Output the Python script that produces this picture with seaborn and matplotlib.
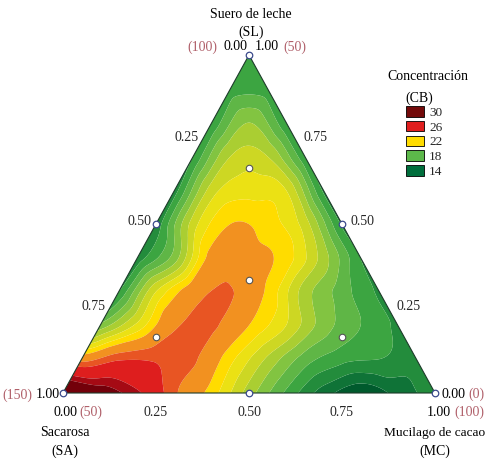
import numpy as np
import matplotlib
matplotlib.use("Agg")
import matplotlib.pyplot as plt
import matplotlib.tri as mtri
from matplotlib.patches import Patch
import pandas as pd
import seaborn as sns

# ---- data: concentration (CB) read on a simplex grid, rows of SL = 0.0 ... 1.0,
#      values for MC = 0.0, 0.1, ... (SA = 1 - SL - MC)
conc_sl00 = [34.0, 31.5, 28.8, 24.8, 22.5, 19.5, 16.8, 14.5, 13.2, 14.3, 15.8]
conc_sl01 = [24.0, 25.6, 25.6, 24.8, 22.3, 19.8, 17.5, 16.3, 16.0, 15.5]
conc_sl02 = [18.3, 21.3, 24.4, 24.8, 23.0, 21.0, 18.5, 17.0, 15.8]
conc_sl03 = [16.0, 21.0, 23.9, 24.68, 22.8, 19.5, 17.5, 15.8]
conc_sl04 = [15.3, 18.5, 23.5, 23.4, 22.5, 19.5, 16.0]
conc_sl05 = [15.3, 20.5, 23.0, 22.5, 20.5, 15.8]
conc_sl06 = [15.5, 20.5, 21.6, 21.0, 15.8]
conc_sl07 = [16.0, 20.0, 20.0, 16.2]
conc_sl08 = [16.2, 19.0, 16.2]
conc_sl09 = [16.5, 16.5]
conc_sl10 = [16.5]
conc_rows = [conc_sl00, conc_sl01, conc_sl02, conc_sl03, conc_sl04, conc_sl05,
             conc_sl06, conc_sl07, conc_sl08, conc_sl09, conc_sl10]

# design points (augmented simplex-centroid)
design_SA = [1, 0, 0, 0.5, 0.5, 0, 1/3, 2/3, 1/6, 1/6]
design_SL = [0, 1, 0, 0.5, 0, 0.5, 1/3, 1/6, 2/3, 1/6]
design_MC = [0, 0, 1, 0, 0.5, 0.5, 1/3, 1/6, 1/6, 2/3]
design_kind = ["edge"] * 6 + ["inner"] * 4

tick_vals = [0.25, 0.50, 0.75]
legend_vals = ["30", "26", "22", "18", "14"]

# ---- style
sns.set_theme(style="white")
plt.rcParams["font.family"] = ["Liberation Serif", "DejaVu Serif"]

H = np.sqrt(3) / 2
W, HP = 487, 462


def cart(sl, mc):
    sl = np.asarray(sl, float)
    mc = np.asarray(mc, float)
    return mc + sl / 2, sl * H


# build grid
sl_list, mc_list, z_list = [], [], []
n = len(conc_rows) - 1
for j, row in enumerate(conc_rows):
    for i, v in enumerate(row):
        sl_list.append(j / n)
        mc_list.append(i / n)
        z_list.append(v)
gx, gy = cart(sl_list, mc_list)
z = np.array(z_list)

tri = mtri.Triangulation(gx, gy)
refiner = mtri.UniformTriRefiner(tri)
interp = mtri.CubicTriInterpolator(tri, z, kind="geom")
tri_r, z_r = refiner.refine_field(z, triinterpolator=interp, subdiv=4)

levels = [0, 14, 15, 16, 17, 18, 19, 20, 21, 22, 23, 24.6, 25.8, 28.5, 30, 60]
band_colors = ["#005a2d", "#0f7337", "#238c3c", "#3ca541", "#5fb646", "#82c441",
               "#aace32", "#cdd723", "#ebe114", "#ffdc00", "#f29120", "#e85523",
               "#de1e1e", "#a50a14", "#73000a"]

fig = plt.figure(figsize=(W / 100, HP / 100), dpi=100)
ax = fig.add_axes([63 / W, 1 - 393 / HP, 372 / W, 338 / HP])
ax.set_xlim(0, 1)
ax.set_ylim(0, H)
ax.axis("off")

ax.tricontourf(tri_r, z_r, levels=levels, colors=band_colors, antialiased=True)

# triangle outline
ax.plot([0, 1, 0.5, 0], [0, 0, H, 0], color="#1d3b2a", lw=0.8, clip_on=False, zorder=3)

# design points with seaborn
dx, dy = cart(design_SL, design_MC)
df = pd.DataFrame({"x": dx, "y": dy, "kind": design_kind})
sns.scatterplot(data=df[df.kind == "edge"], x="x", y="y", ax=ax, s=22,
                color="white", edgecolor="#3b4a8c", linewidth=0.9,
                legend=False, zorder=5, clip_on=False)
sns.scatterplot(data=df[df.kind == "inner"], x="x", y="y", ax=ax, s=22,
                color="white", edgecolor="#555555", linewidth=0.8,
                legend=False, zorder=5, clip_on=False)
ax.set_xlabel("")
ax.set_ylabel("")
ax.axis("off")

# tick labels
fs_tick = 10
for v in tick_vals:
    # left edge : SA
    x, y = cart(1 - v, 0)
    ax.annotate(f"{v:.2f}", (x, y), xytext=(-3, 1.5), textcoords="offset points",
                ha="right", va="center", fontsize=fs_tick, annotation_clip=False)
    # right edge : SL
    x, y = cart(v, 1 - v)
    ax.annotate(f"{v:.2f}", (x, y), xytext=(6, 1.5), textcoords="offset points",
                ha="left", va="center", fontsize=fs_tick, annotation_clip=False)
    # bottom : MC
    x, y = cart(0, v)
    ax.annotate(f"{v:.2f}", (x, y), xytext=(0, -14), textcoords="offset points",
                ha="center", va="center", fontsize=fs_tick, annotation_clip=False)

red_txt = "#b0606a"


def ft(xp, yp, s, ha="left", color="black", size=fs_tick):
    fig.text(xp / W, 1 - yp / HP, s, ha=ha, va="center", color=color, fontsize=size)


# corner labels
ft(217, 47, "(100)", ha="right", color=red_txt, size=10)
ft(247, 47, "0.00", ha="right")
ft(255, 47, "1.00", ha="left")
ft(283, 47, "(50)", ha="left", color=red_txt, size=10)
ft(2, 395, "(150)", ha="left", color=red_txt, size=10)
ft(36, 395, "1.00", ha="left")
ft(53, 412, "0.00", ha="left")
ft(79, 412, "(50)", ha="left", color=red_txt, size=10)
ft(442, 394, "0.00", ha="left")
ft(468, 394, "(0)", ha="left", color=red_txt, size=10)
ft(427, 412, "1.00", ha="left")
ft(454, 412, "(100)", ha="left", color=red_txt, size=10)

# axis titles
ft(251, 15, "Suero de leche", ha="center", size=10)
ft(251, 32, "(SL)", ha="center", size=10)
ft(65, 433, "Sacarosa", ha="center", size=10)
ft(65, 451, "(SA)", ha="center", size=10)
ft(435, 433, "Mucilago de cacao", ha="center", size=9.6)
ft(435, 451, "(MC)", ha="center", size=10)

# legend
ft(428, 77, "Concentración", ha="center", size=10)
ft(419, 98, "(CB)", ha="center", size=10)
legend_colors = ["#730a0a", "#e01e1e", "#ffdc00", "#5cb84a", "#006e3c"]
handles = [Patch(facecolor=c, edgecolor="black", linewidth=0.6) for c in legend_colors]
fig.legend(handles, legend_vals, loc="upper left",
           bbox_to_anchor=(406 / W, 1 - 106 / HP), frameon=False, fontsize=9.5,
           handlelength=1.35, handleheight=0.85, handletextpad=0.4,
           labelspacing=0.15, borderpad=0, borderaxespad=0)

fig.savefig("out.png", dpi=100)
